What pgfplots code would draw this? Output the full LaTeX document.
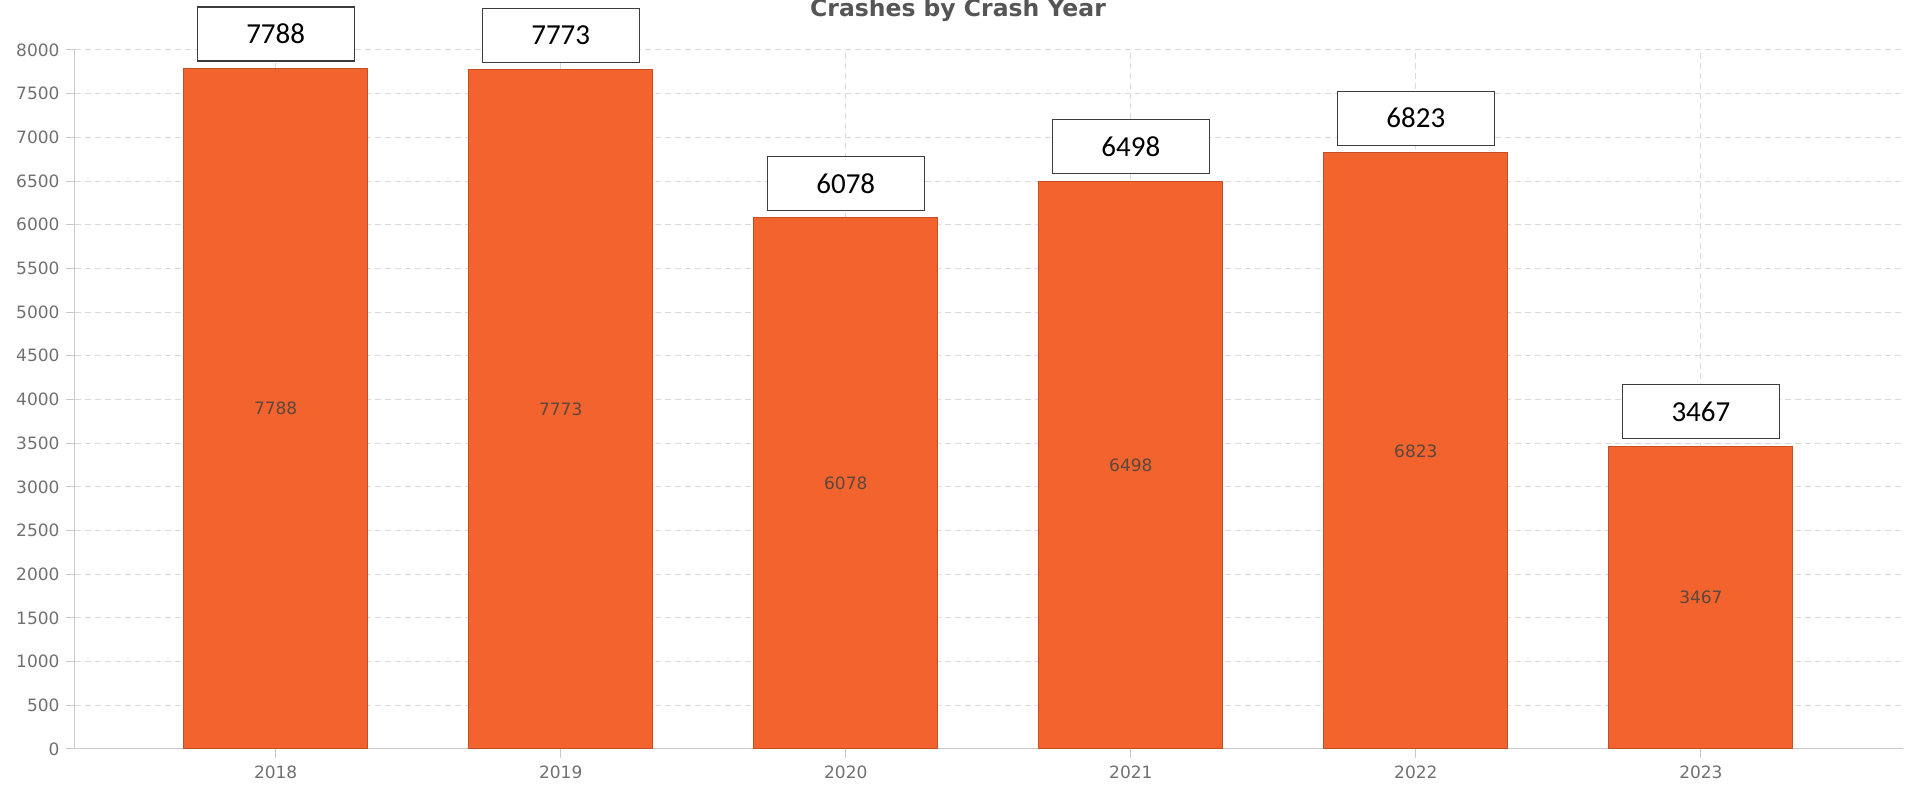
\documentclass[border=0pt]{standalone}
\usepackage{fontspec}
\setmainfont{DejaVu Sans}
\newfontfamily\carlito{Carlito}
\usepackage{pgfplots}
\pgfplotsset{compat=1.18}

\definecolor{barfill}{RGB}{242,99,46}
\definecolor{baredge}{RGB}{196,78,38}
\definecolor{gridgray}{RGB}{218,218,218}
\definecolor{axgray}{RGB}{200,200,200}
\definecolor{ticktext}{RGB}{112,112,112}
\definecolor{titletext}{RGB}{85,85,85}
\definecolor{innertext}{RGB}{90,72,62}
\definecolor{boxedge}{RGB}{60,60,60}

\begin{document}
\begin{tikzpicture}
\begin{axis}[
    scale only axis,
    width=1828pt, height=699pt,
    ybar, bar width=184pt, bar shift=0pt,
    xmin=-0.704, xmax=5.709,
    ymin=0, ymax=8000,
    ytick distance=500,
    xtick={0,1,2,3,4,5},
    xticklabels={2018,2019,2020,2021,2022,2023},
    axis x line*=bottom, axis y line*=left,
    axis line style={draw=axgray, line width=1pt},
    tick align=outside, major tick length=9pt,
    tick style={draw=axgray, line width=1pt},
    xmajorgrids, ymajorgrids,
    major grid style={draw=gridgray, line width=1pt, dash pattern=on 6pt off 4pt},
    /pgf/number format/assume math mode=true,
    /pgf/number format/1000 sep={},
    tick label style={font=\fontsize{17}{20}\selectfont, text=ticktext},
    yticklabel style={xshift=-3pt},
    xticklabel style={yshift=-4pt},
    title={Crashes by Crash Year},
    title style={at={(0.5,1)}, anchor=base, yshift=27pt, xshift=-31pt,
        font=\bfseries\fontsize{23.5}{28}\selectfont, text=titletext},
]
% bars with value in the middle
\addplot[fill=barfill, draw=baredge, line width=1pt,
    visualization depends on={y \as \rawy},
    nodes near coords,
    nodes near coords style={anchor=center, yshift={-0.0436875*\rawy},
        font=\fontsize{17}{20}\selectfont, text=innertext}]
coordinates {(0,7788) (1,7773) (2,6078) (3,6498) (4,6823) (5,3467)};
% boxed callouts above the bars
\addplot[draw=none, fill=none,
    nodes near coords,
    nodes near coords style={anchor=south, yshift=7pt, draw=boxedge,
        line width=1.3pt, fill=white, minimum width=157pt, minimum height=54pt,
        inner sep=0pt, text=black, font=\carlito\fontsize{29}{34}\selectfont}]
coordinates {(0,7788) (1,7773) (2,6078) (3,6498) (4,6823) (5,3467)};
\end{axis}
\pgfresetboundingbox
\path ([shift={(-75pt,-41pt)}]current axis.south west)
    rectangle ([shift={(4pt,50pt)}]current axis.north east);
\end{tikzpicture}
\end{document}
